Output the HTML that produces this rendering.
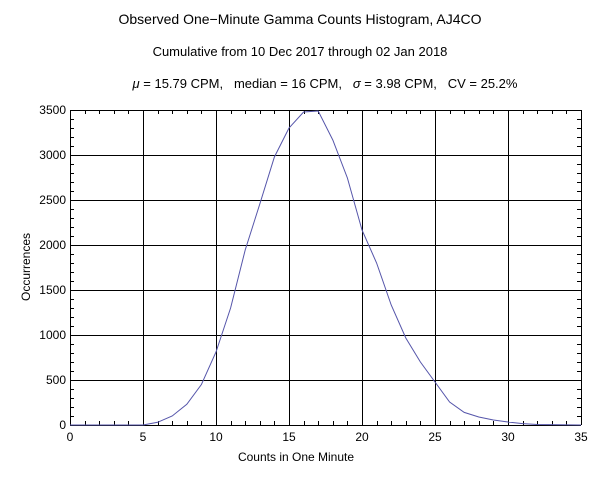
<!DOCTYPE html>
<html><head><style>body{margin:0;background:#fff}svg text{font-family:"Liberation Sans",sans-serif;fill:#000;white-space:pre}</style></head>
<body>
<svg width="600" height="485" xmlns="http://www.w3.org/2000/svg">
<rect width="600" height="485" fill="#fff"/>
<text x="300" y="24" font-size="14" text-anchor="middle">Observed One−Minute Gamma Counts Histogram, AJ4CO</text>
<text x="300" y="56" font-size="13" text-anchor="middle">Cumulative from 10 Dec 2017 through 02 Jan 2018</text>
<text x="325" y="88" font-size="13" text-anchor="middle"><tspan font-style="italic">μ</tspan> = 15.79 CPM,&#160;&#160;&#160;median = 16 CPM,&#160;&#160;&#160;<tspan font-style="italic">σ</tspan> = 3.98 CPM,&#160;&#160;&#160;CV = 25.2%</text>
<g id="g" stroke="#000" stroke-width="1" shape-rendering="crispEdges"></g>
<polyline fill="none" stroke="#5555aa" stroke-width="1" points="
70,425 143,425 157.6,422.3 172.2,416 186.8,404.3 201.4,384.5 216,352 230.6,308 245.2,250 259.8,204 274.4,157 289,128 303.6,112 318.2,111 332.8,140 347.4,178 362,230 376.6,263 391.2,305 405.8,338 420.4,362 435,382 449.6,402 464.2,412.4 478.8,417 493.4,420 508,422 522.6,423.6 537.2,424.5 581,425"/>
<text x="296" y="461" font-size="12" text-anchor="middle">Counts in One Minute</text>
<text transform="translate(30,267) rotate(-90)" font-size="12" text-anchor="middle">Occurrences</text>
<script>
var g=document.getElementById('g'),ns='http://www.w3.org/2000/svg';
function L(a,b,c,d){var l=document.createElementNS(ns,'line');l.setAttribute('x1',a);l.setAttribute('y1',b);l.setAttribute('x2',c);l.setAttribute('y2',d);g.appendChild(l);}
function T(x,y,s,a){var t=document.createElementNS(ns,'text');t.setAttribute('x',x);t.setAttribute('y',y);t.setAttribute('font-size','12');t.setAttribute('text-anchor',a);t.setAttribute('stroke','none');t.textContent=s;g.appendChild(t);}
var X0=70,X1=581,Y0=425,Y1=110;
function xs(v){return X0+(X1-X0)*v/35}function ys(v){return Y0-(Y0-Y1)*v/3500}
for(var i=0;i<=35;i++){var x=Math.round(xs(i))+0.5;if(i%5==0){L(x,Y1,x,Y0);T(xs(i),441,String(i),'middle');}else{L(x,Y0,x,Y0-4);L(x,Y1,x,Y1+4);}}
for(var v=0;v<=3500;v+=100){var y=Math.round(ys(v))+0.5;if(v%500==0){L(X0,y,X1,y);T(X0-4,ys(v)+4,String(v),'end');}else{L(X0,y,X0+4,y);L(X1,y,X1-4,y);}}
</script>
</svg>
</body></html>
